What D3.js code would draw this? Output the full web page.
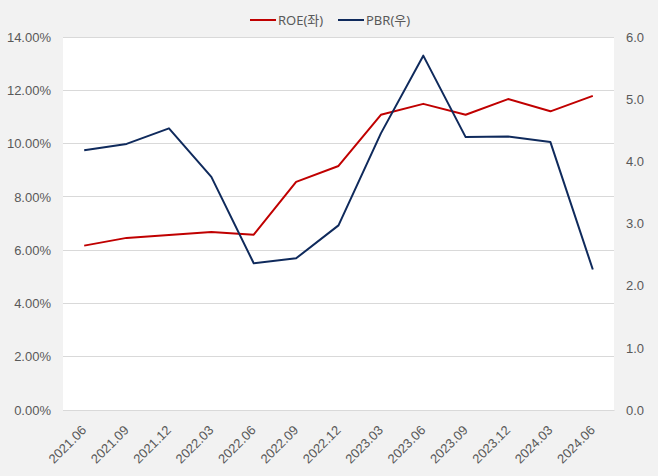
<!DOCTYPE html>
<html><head><meta charset="utf-8">
<script src="https://cdn.jsdelivr.net/npm/d3@7"></script>
<style>
html,body{margin:0;padding:0;background:#f2f2f2;}
svg{display:block;font-family:"Noto Sans","Noto Sans CJK KR",sans-serif;}
</style></head>
<body><svg id="c" width="658" height="476"></svg>
<script>
const categories = ["2021.06","2021.09","2021.12","2022.03","2022.06","2022.09","2022.12","2023.03","2023.06","2023.09","2023.12","2024.03","2024.06"];
const roe = [6.17, 6.46, 6.57, 6.68, 6.58, 8.56, 9.16, 11.08, 11.49, 11.08, 11.67, 11.21, 11.79];
const pbr = [4.18, 4.28, 4.53, 3.75, 2.36, 2.44, 2.97, 4.45, 5.70, 4.39, 4.40, 4.31, 2.26];
const leftTicks = [0, 2, 4, 6, 8, 10, 12, 14];
const rightTicks = [0, 1, 2, 3, 4, 5, 6];
const seriesNames = ["ROE(좌)", "PBR(우)"];
const colors = ["#c00000", "#0f2a5c"];

const svg = d3.select("#c");
const W = 658, H = 476;
const m = {l:63, r:44, t:37, b:66};
const pw = W - m.l - m.r, ph = H - m.t - m.b;
const fs = 13;

svg.append("rect").attr("width", W).attr("height", H).attr("fill", "#f2f2f2");
svg.append("rect").attr("x", m.l).attr("y", m.t).attr("width", pw).attr("height", ph).attr("fill", "#ffffff");

const x = d3.scalePoint().domain(categories).range([m.l, m.l + pw]).padding(0.5);
const yL = d3.scaleLinear().domain([0, 14]).range([m.t + ph, m.t]);
const yR = d3.scaleLinear().domain([0, 6]).range([m.t + ph, m.t]);

// gridlines
svg.append("g").selectAll("line").data(leftTicks).join("line")
  .attr("x1", m.l).attr("x2", m.l + pw)
  .attr("y1", d => yL(d)).attr("y2", d => yL(d))
  .attr("stroke", "#d9d9d9").attr("stroke-width", 1).attr("shape-rendering", "crispEdges");

// left axis
const gL = svg.append("g").attr("transform", `translate(${m.l},0)`)
  .call(d3.axisLeft(yL).tickValues(leftTicks).tickFormat(d => d.toFixed(2) + "%").tickSize(0).tickPadding(12));
gL.select(".domain").remove();
gL.selectAll("text").attr("fill", "#595959").attr("font-size", fs);

// right axis
const gR = svg.append("g").attr("transform", `translate(${m.l + pw},0)`)
  .call(d3.axisRight(yR).tickValues(rightTicks).tickFormat(d => d.toFixed(1)).tickSize(0).tickPadding(12));
gR.select(".domain").remove();
gR.selectAll("text").attr("fill", "#595959").attr("font-size", fs);

// bottom axis
const gB = svg.append("g").attr("transform", `translate(0,${m.t + ph})`)
  .call(d3.axisBottom(x).tickSize(0).tickPadding(0));
gB.select(".domain").attr("stroke", "#d9d9d9");
gB.selectAll("text")
  .attr("fill", "#595959").attr("font-size", fs)
  .attr("text-anchor", "end")
  .attr("dy", null).attr("y", 0)
  .attr("transform", "translate(2.5,21) rotate(-45)");

// lines
const lineL = d3.line().x((d, i) => x(categories[i])).y(d => yL(d));
const lineR = d3.line().x((d, i) => x(categories[i])).y(d => yR(d));
svg.append("path").datum(roe).attr("d", lineL).attr("fill", "none")
  .attr("stroke", colors[0]).attr("stroke-width", 2).attr("stroke-linejoin", "round");
svg.append("path").datum(pbr).attr("d", lineR).attr("fill", "none")
  .attr("stroke", colors[1]).attr("stroke-width", 2).attr("stroke-linejoin", "round");

// legend
const legX = [250, 338];
const leg = svg.append("g");
seriesNames.forEach((n, i) => {
  leg.append("line").attr("x1", legX[i]).attr("x2", legX[i] + 26).attr("y1", 20).attr("y2", 20)
    .attr("stroke", colors[i]).attr("stroke-width", 2);
  leg.append("text").attr("x", legX[i] + 28).attr("y", 20).attr("dy", "0.35em")
    .attr("font-size", fs).attr("fill", "#595959").text(n);
});
</script></body></html>
